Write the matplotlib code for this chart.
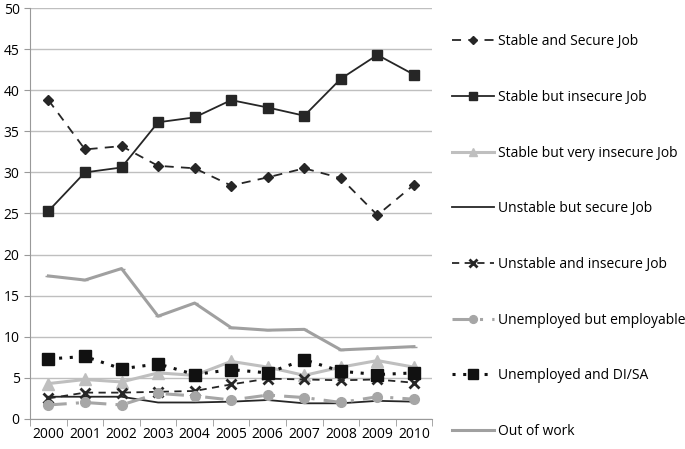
import matplotlib
matplotlib.use("Agg")
import matplotlib.pyplot as plt
import numpy as np

years = ["2000", "2001", "2002", "2003", "2004", "2005", "2006", "2007", "2008", "2009", "2010"]

stable_secure = [38.8, 32.8, 33.2, 30.8, 30.5, 28.4, 29.4, 30.5, 29.3, 24.8, 28.5]
stable_insecure = [25.3, 30.0, 30.6, 36.1, 36.7, 38.8, 37.9, 36.9, 41.4, 44.3, 41.9]
stable_very_insecure = [4.3, 4.8, 4.5, 5.6, 5.3, 7.0, 6.3, 5.3, 6.3, 7.1, 6.3]
unstable_secure = [2.7, 2.7, 2.7, 2.0, 2.0, 2.1, 2.3, 1.9, 1.9, 2.2, 2.1]
unstable_insecure = [2.5, 3.2, 3.2, 3.3, 3.4, 4.2, 4.9, 4.8, 4.7, 4.8, 4.4]
unemployed_employable = [1.7, 2.0, 1.7, 3.1, 2.8, 2.3, 2.9, 2.6, 2.0, 2.7, 2.4]
unemployed_disa = [7.3, 7.6, 6.1, 6.7, 5.4, 6.0, 5.6, 7.2, 5.8, 5.4, 5.6]
out_of_work = [17.4, 16.9, 18.3, 12.5, 14.1, 11.1, 10.8, 10.9, 8.4, 8.6, 8.8]

plt.rcParams["font.family"] = ["Open Sans", "DejaVu Sans"]

fig = plt.figure(figsize=(6.85, 4.49), dpi=100)
ax = fig.add_axes([0.044, 0.067, 0.587, 0.915])
x = np.arange(len(years))

dark = "#262626"
ax.plot(x, stable_secure, color=dark, ls=(0, (5, 4)), lw=1.3, marker="D", ms=5,
        label="Stable and Secure Job")
ax.plot(x, stable_insecure, color=dark, ls="-", lw=1.3, marker="s", ms=7,
        label="Stable but insecure Job")
ax.plot(x, stable_very_insecure, color="#bfbfbf", ls="-", lw=2.2, marker="^", ms=8,
        label="Stable but very insecure Job")
ax.plot(x, unstable_secure, color=dark, ls="-", lw=1.3,
        label="Unstable but secure Job")
ax.plot(x, unstable_insecure, color=dark, ls=(0, (4, 3)), lw=1.3, marker="x", ms=7, mew=2,
        label="Unstable and insecure Job")
ax.plot(x, unemployed_employable, color="#a6a6a6", ls=(0, (6, 3, 1, 3)), lw=2.2, marker="o", ms=7,
        label="Unemployed but employable")
ax.plot(x, unemployed_disa, color="#111111", ls=(0, (1, 2.5)), lw=2.2, marker="s", ms=9,
        label="Unemployed and DI/SA")
ax.plot(x, out_of_work, color="#a0a0a0", ls="-", lw=2.2, marker="_", ms=5,
        label="Out of work")

ax.set_xlim(-0.5, len(years) - 0.5)
ax.set_ylim(0, 50)
ax.set_yticks(np.arange(0, 51, 5))
ax.set_xticks(x)
ax.set_xticklabels(years)
ax.set_xticks(np.arange(-0.5, len(years), 1), minor=True)
ax.tick_params(axis="x", which="major", length=0, labelsize=10, pad=6)
ax.tick_params(axis="x", which="minor", length=5, color="#999999", direction="out")
ax.tick_params(axis="y", length=4, color="#999999", labelsize=10)
ax.grid(axis="y", color="#bfbfbf", lw=1)
ax.set_axisbelow(True)
for s in ["top", "right"]:
    ax.spines[s].set_visible(False)
for s in ["left", "bottom"]:
    ax.spines[s].set_color("#999999")

ax.legend(loc="upper left", bbox_to_anchor=(1.035, 0.95), frameon=False, fontsize=10,
          labelspacing=2.93, handlelength=3.0, handletextpad=0.3, borderaxespad=0,
          markerscale=0.8)

plt.savefig("out.png", dpi=100)
